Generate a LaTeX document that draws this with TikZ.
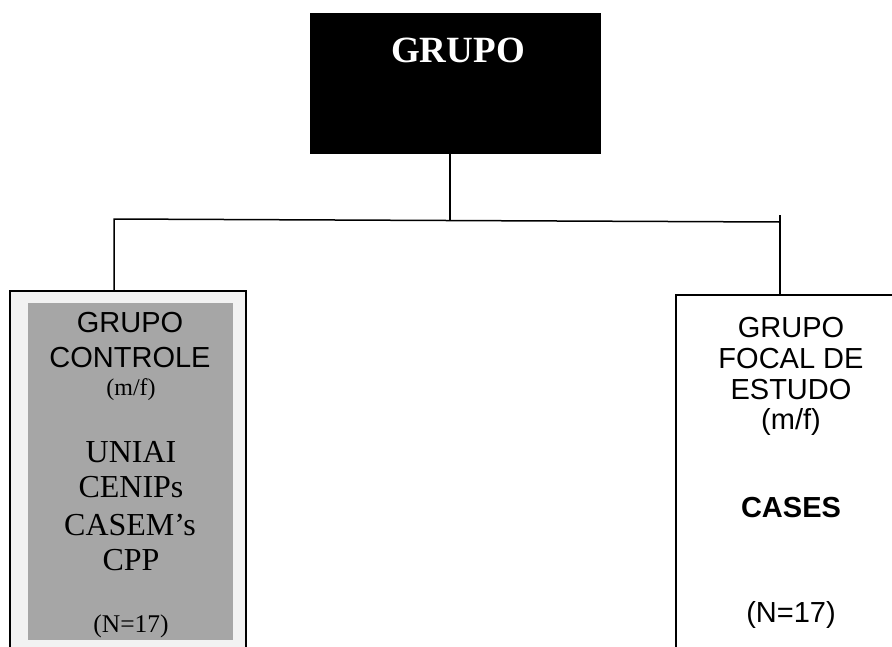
\documentclass[tikz,border=0pt]{standalone}
\usepackage{fontspec}
\setmainfont{Liberation Serif}
\newfontfamily\arialf{Liberation Sans}
\definecolor{outerfill}{HTML}{F2F2F2}
\definecolor{innerfill}{HTML}{A6A6A6}
\begin{document}
\begin{tikzpicture}[x=1pt,y=-1pt,
  boxline/.style={draw=black,line width=1.4pt},
  conn/.style={draw=black,line width=1.5pt},
  txt/.style={anchor=base,inner sep=0pt,outer sep=0pt},
  sansbig/.style={txt,font=\arialf\fontsize{29}{29}\selectfont},
  sansbold/.style={txt,font=\arialf\bfseries\fontsize{29}{29}\selectfont},
  serifbig/.style={txt,font=\fontsize{32}{32}\selectfont},
  serifsmall/.style={txt,font=\fontsize{24}{24}\selectfont},
  serifmid/.style={txt,font=\fontsize{25.5}{25.5}\selectfont}]
\useasboundingbox (0,0) rectangle (892,646);
\begin{scope}
\clip (0,0) rectangle (892,646);
% top black box
\node[fill=black,draw=black,minimum width=290,minimum height=140,inner sep=0pt] (top) at (455,83) {};
\node[txt,text=white,font=\bfseries\fontsize{37}{37}\selectfont] (toplabel) at (458,62) {GRUPO};
% left box
\node[boxline,fill=outerfill,minimum width=236,minimum height=369,inner sep=0pt] (lbox) at (128,475.5) {};
\node[fill=innerfill,minimum width=205,minimum height=337,inner sep=0pt] (linner) at (130.5,471.5) {};
% right box
\node[boxline,fill=white,minimum width=234,minimum height=365,inner sep=0pt] (rbox) at (793,477.5) {};
% connectors
\coordinate (jl) at (114,219);
\coordinate (jm) at (450,220.5);
\coordinate (jr) at (780,222);
\coordinate (jrtop) at (780,215);
\draw[conn] (jm |- top.south) -- (jm);
\draw[conn] (jl |- lbox.north) -- (jl) -- (jr);
\draw[draw=black,line width=1.3pt] (jrtop) -- (jr |- rbox.north);
% left texts
\node[sansbig] (l1) at (130,332) {GRUPO};
\node[sansbig] (l2) at (130,367) {CONTROLE};
\node[serifsmall] (l3) at (131,395) {(m/f)};
\node[serifbig] (l4) at (131,462) {UNIAI};
\node[serifbig] (l5) at (131,497) {CENIPs};
\node[serifbig] (l6) at (130,535) {CASEM’s};
\node[serifbig] (l7) at (131,570) {CPP};
\node[serifmid] (l8) at (131,632.5) {(N=17)};
% right texts
\node[sansbig] (r1) at (791,337) {GRUPO};
\node[sansbig] (r2) at (791,368) {FOCAL DE};
\node[sansbig] (r3) at (791,399) {ESTUDO};
\node[sansbig] (r4) at (791,429) {(m/f)};
\node[sansbold] (r5) at (791,517) {CASES};
\node[sansbig] (r6) at (791,622) {(N=17)};
\end{scope}
\end{tikzpicture}
\end{document}
